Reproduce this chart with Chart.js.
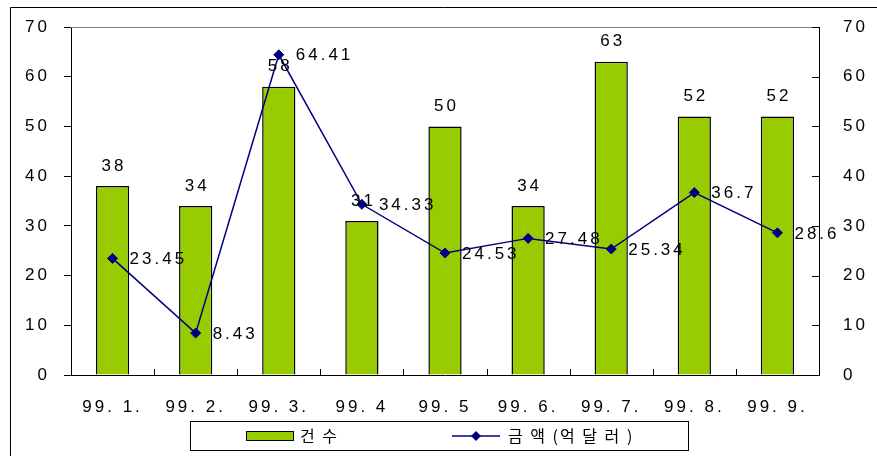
<!DOCTYPE html>
<html>
<head>
<meta charset="utf-8">
<script src="https://cdn.jsdelivr.net/npm/chart.js@4"></script>
<style>
  html, body { margin: 0; padding: 0; background: #fff; }
  #wrap { width: 877px; height: 456px; }
</style>
</head>
<body>
<div id="wrap"><canvas id="chart" width="877" height="456"></canvas></div>
<script>
// data
const months = ['99. 1.', '99. 2.', '99. 3.', '99. 4', '99. 5', '99. 6.', '99. 7.', '99. 8.', '99. 9.'];
const counts = [38, 34, 58, 31, 50, 34, 63, 52, 52];
const amounts = [23.45, 8.43, 64.41, 34.33, 24.53, 27.48, 25.34, 36.7, 28.6];
const amountLabels = ['23.45', '8.43', '64.41', '34.33', '24.53', '27.48', '25.34', '36.7', '28.6'];
const countName = '건 수';
const amountName = '금 액 (억 달 러 )';

const green = '#99cc00';
const navy = '#000080';
const font = '"Liberation Sans", Arial, sans-serif';

// frame, inner ticks, value labels and the boxed legend
const extras = {
  id: 'extras',
  beforeDraw(chart) {
    chart.ctx.letterSpacing = '3px';
  },
  afterDraw(chart) {
    const ctx = chart.ctx;
    const a = chart.chartArea;
    const x = chart.scales.x;
    const y1 = chart.scales.y1;
    ctx.save();
    ctx.letterSpacing = '0px';
    // outer frame
    ctx.strokeStyle = '#000';
    ctx.lineWidth = 1;
    ctx.beginPath();
    ctx.moveTo(10.5, 460);
    ctx.lineTo(10.5, 7.5);
    ctx.lineTo(880, 7.5);
    ctx.stroke();
    // top edge of plot
    ctx.strokeStyle = '#808080';
    ctx.beginPath();
    ctx.moveTo(a.left, a.top + 0.5);
    ctx.lineTo(a.right, a.top + 0.5);
    ctx.stroke();
    // right axis ticks, pointing inward
    ctx.strokeStyle = '#000';
    y1.ticks.forEach(t => {
      const py = Math.round(y1.getPixelForValue(t.value)) + 0.5;
      ctx.beginPath();
      ctx.moveTo(a.right - 7, py);
      ctx.lineTo(a.right, py);
      ctx.stroke();
    });
    // category ticks on x axis, pointing up
    const half = (x.getPixelForValue(1) - x.getPixelForValue(0)) / 2;
    for (let i = 0; i <= months.length; i++) {
      const px = Math.round(x.getPixelForValue(i) - half) + 0.5;
      ctx.beginPath();
      ctx.moveTo(px, a.bottom - 6);
      ctx.lineTo(px, a.bottom);
      ctx.stroke();
    }

    // value labels
    ctx.letterSpacing = '3px';
    ctx.font = '17px ' + font;
    ctx.fillStyle = '#000';
    ctx.textBaseline = 'middle';
    ctx.textAlign = 'center';
    chart.getDatasetMeta(1).data.forEach((bar, i) => {
      ctx.fillText(String(counts[i]), bar.x + 1.5, bar.y - 20);
    });
    ctx.textAlign = 'left';
    chart.getDatasetMeta(0).data.forEach((pt, i) => {
      ctx.fillText(amountLabels[i], pt.x + 17, pt.y + 1);
    });

    // legend box
    ctx.letterSpacing = '0px';
    ctx.strokeStyle = '#000';
    ctx.strokeRect(190.5, 421.5, 498, 29);
    ctx.fillStyle = green;
    ctx.fillRect(246, 431, 48, 10);
    ctx.strokeRect(246.5, 431.5, 47, 9);
    ctx.strokeStyle = navy;
    ctx.lineWidth = 1.5;
    ctx.beginPath();
    ctx.moveTo(452, 436);
    ctx.lineTo(500, 436);
    ctx.stroke();
    ctx.fillStyle = navy;
    ctx.beginPath();
    ctx.moveTo(476, 431);
    ctx.lineTo(481, 436);
    ctx.lineTo(476, 441);
    ctx.lineTo(471, 436);
    ctx.closePath();
    ctx.fill();
    ctx.fillStyle = '#000';
    ctx.font = '16px "Noto Sans CJK KR", sans-serif';
    ctx.letterSpacing = '2px';
    ctx.textAlign = 'left';
    ctx.fillText(countName, 300, 436);
    ctx.fillText(amountName, 508, 436);
    ctx.restore();
  }
};

new Chart(document.getElementById('chart').getContext('2d'), {
  data: {
    labels: months,
    datasets: [
      {
        type: 'line',
        label: amountName,
        data: amounts,
        yAxisID: 'y1',
        borderColor: navy,
        backgroundColor: navy,
        borderWidth: 1.5,
        pointStyle: 'rectRot',
        pointRadius: 5,
        pointBorderWidth: 1,
        tension: 0,
        order: 0
      },
      {
        type: 'bar',
        label: countName,
        data: counts,
        yAxisID: 'y',
        backgroundColor: green,
        borderColor: '#000',
        borderWidth: 1.5,
        barPercentage: 0.4,
        categoryPercentage: 1,
        order: 1
      }
    ]
  },
  options: {
    responsive: false,
    animation: false,
    layout: { padding: { left: 10, top: 27, right: 0, bottom: 36 } },
    plugins: {
      legend: { display: false },
      tooltip: { enabled: false }
    },
    scales: {
      x: {
        grid: { display: false },
        border: { color: '#000', width: 1 },
        ticks: { color: '#000', font: { family: font, size: 17 }, padding: 14, maxRotation: 0 },
        afterFit(s) { s.height = 45; }
      },
      y: {
        position: 'left',
        min: 0,
        max: 70,
        ticks: { stepSize: 10, color: '#000', font: { family: font, size: 17 }, padding: 14 },
        grid: { drawOnChartArea: false, tickLength: 7, color: '#000' },
        border: { color: '#000', width: 1 },
        afterFit(s) { s.width = 61; }
      },
      y1: {
        position: 'right',
        min: 0,
        max: 70,
        ticks: { stepSize: 10, color: '#000', font: { family: font, size: 17 }, padding: 16 },
        grid: { display: false },
        border: { color: '#000', width: 1 },
        afterFit(s) { s.width = 58; }
      }
    }
  },
  plugins: [extras]
});
</script>
</body>
</html>
